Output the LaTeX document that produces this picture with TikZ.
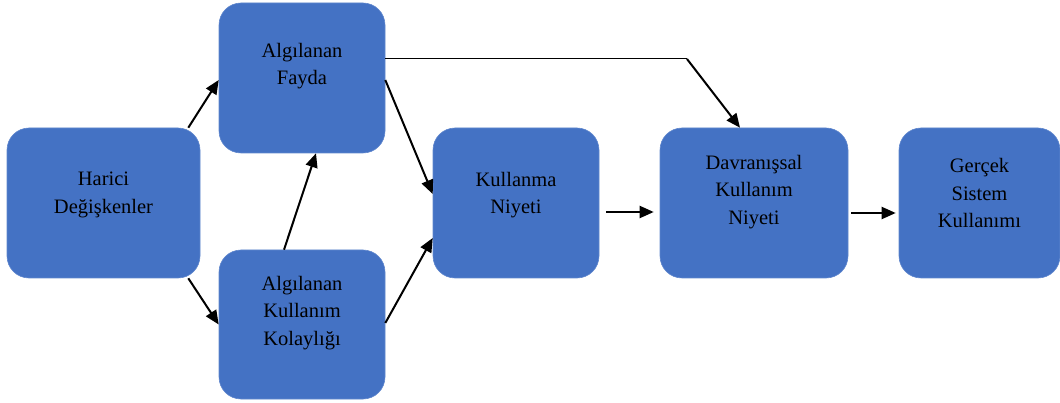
\documentclass[tikz,border=0pt]{standalone}
\usepackage{fontspec}
\setmainfont{Liberation Serif}
\usetikzlibrary{arrows.meta}
\definecolor{boxblue}{HTML}{4472C4}
\begin{document}
\begin{tikzpicture}[x=1pt,y=-1pt,
  box/.style={fill=boxblue,draw=boxblue!85!white,line width=0.6pt,rounded corners=22pt,inner sep=0pt},
  lbl/.style={align=center,font=\fontsize{20.5}{27.5}\selectfont,text=black,inner sep=0pt},
  link/.style={line width=2pt,-{Triangle[length=14pt,width=12pt]}},
  thin/.style={line width=1pt}]
\useasboundingbox (0,0) rectangle (1060,403);

% boxes
\node[box,minimum width=193pt,minimum height=150pt] (harici) at (103.5,203) {};
\node[box,minimum width=166pt,minimum height=150pt] (fayda)  at (302,78) {};
\node[box,minimum width=166pt,minimum height=149pt] (kolay)  at (302,324.5) {};
\node[box,minimum width=166pt,minimum height=150pt] (niyet)  at (516,203) {};
\node[box,minimum width=188pt,minimum height=150pt] (davran) at (754,203) {};
\node[box,minimum width=161pt,minimum height=150pt] (gercek) at (979.5,203) {};

% labels
\node[lbl] (tharici) at (103.5,195) {Harici\\Değişkenler};
\node[lbl] (tfayda)  at (302,66) {Algılanan\\Fayda};
\node[lbl] (tkolay)  at (302,313) {Algılanan\\Kullanım\\Kolaylığı};
\node[lbl] (tniyet)  at (516,195) {Kullanma\\Niyeti};
\node[lbl] (tdavran) at (754,192) {Davranışsal\\Kullanım\\Niyeti};
\node[lbl] (tgercek) at (979.5,193) {Gerçek\\Sistem\\Kullanımı};

% connectors
\draw[link] ([xshift=-12pt]harici.north east) -- ([yshift=-2pt]fayda.west);
\draw[link] ([xshift=-12pt]harici.south east) -- (kolay.west);
\draw[link] ([xshift=-18pt]kolay.north) -- ([xshift=14pt]fayda.south);
\draw[link] ([yshift=-2pt]fayda.east) -- ([yshift=9pt]niyet.west);
\draw[link] ([yshift=1.5pt]kolay.east) -- ([yshift=-35pt]niyet.west);
\draw[link] ([xshift=7pt,yshift=-9pt]niyet.east) -- ([xshift=-6pt,yshift=-9pt]davran.west);
\draw[link] ([xshift=3pt,yshift=-10pt]davran.east) -- ([xshift=-3pt,yshift=-10pt]gercek.west);
\coordinate (bend) at (687,59);
\draw[thin] ([yshift=19pt]fayda.east) -- (bend);
\draw[link] (bend) -- ([xshift=-14pt]davran.north);
\end{tikzpicture}
\end{document}
